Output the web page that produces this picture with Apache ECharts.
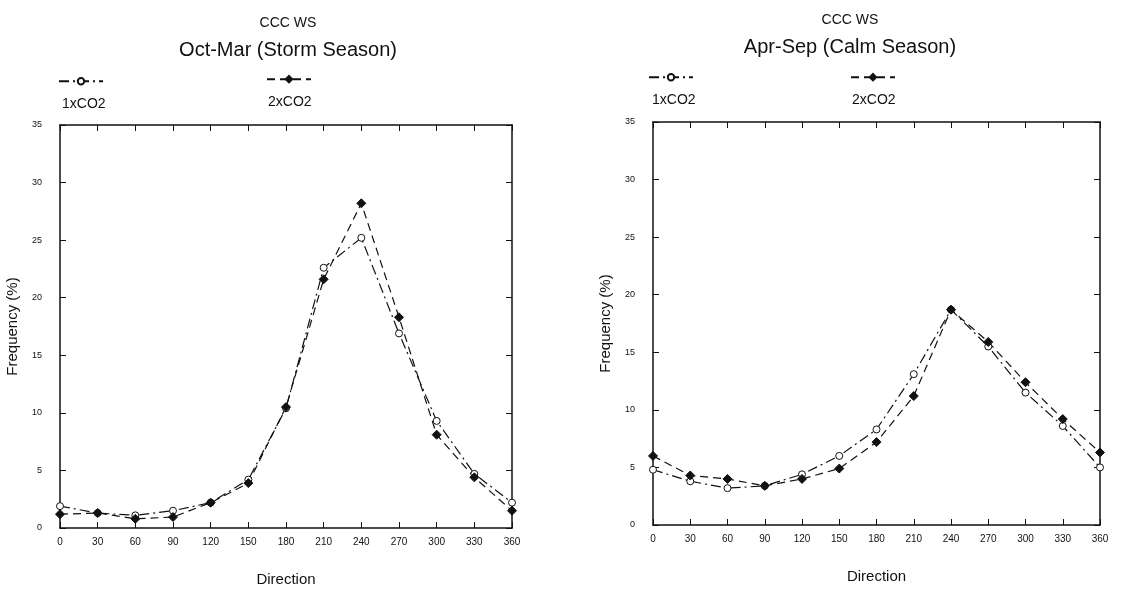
<!DOCTYPE html>
<html>
<head>
    <meta charset="utf-8">
    <title>CCC WS</title>
    <style>
        html, body { margin: 0; padding: 0; background: #fff; }
        #main { width: 1129px; height: 589px; }
    </style>
</head>
<body>
    <div id="main"></div>
    <script src="https://cdn.jsdelivr.net/npm/echarts@6/dist/echarts.min.js"></script>
    <script>
        // wind direction (degrees)
        var directions = [0, 30, 60, 90, 120, 150, 180, 210, 240, 270, 300, 330, 360];

        // Oct-Mar (storm season), frequency %
        var storm1x = [1.9, 1.3, 1.1, 1.5, 2.2, 4.2, 10.4, 22.6, 25.2, 16.9, 9.3, 4.7, 2.2];
        var storm2x = [1.2, 1.3, 0.8, 0.95, 2.2, 3.9, 10.5, 21.6, 28.2, 18.3, 8.1, 4.4, 1.5];

        // Apr-Sep (calm season), frequency %
        var calm1x = [4.8, 3.8, 3.2, 3.4, 4.4, 6.0, 8.3, 13.1, 18.7, 15.5, 11.5, 8.6, 5.0];
        var calm2x = [6.0, 4.3, 4.0, 3.4, 4.0, 4.9, 7.2, 11.2, 18.7, 15.9, 12.4, 9.2, 6.3];

        function pairs(vals) {
            return directions.map(function (d, i) { return [d, vals[i]]; });
        }

        var font = 'Liberation Sans, Arial, sans-serif';
        var ink = '#111';

        function xAxes(gi) {
            return [{
                gridIndex: gi, type: 'value', min: 0, max: 360, interval: 30,
                name: 'Direction', nameLocation: 'middle', nameGap: 44,
                nameTextStyle: { fontFamily: font, fontSize: 15, color: ink, letterSpacing: 1.5 },
                axisLine: { onZero: false, lineStyle: { color: ink, width: 1.5 } },
                axisTick: { inside: true, length: 6, lineStyle: { color: ink } },
                axisLabel: { fontFamily: font, fontSize: 10, color: ink, margin: 9, letterSpacing: 1.5 },
                splitLine: { show: false }
            }, {
                gridIndex: gi, type: 'value', min: 0, max: 360, interval: 30, position: 'top',
                axisLine: { onZero: false, lineStyle: { color: ink, width: 1.5 } },
                axisTick: { inside: true, length: 6, lineStyle: { color: ink } },
                axisLabel: { show: false }, splitLine: { show: false }
            }];
        }

        function yAxes(gi) {
            return [{
                gridIndex: gi, type: 'value', min: 0, max: 35, interval: 5,
                name: 'Frequency (%)', nameLocation: 'middle', nameGap: 40,
                nameTextStyle: { fontFamily: font, fontSize: 15, color: ink, letterSpacing: 1.5 },
                axisLine: { show: true, onZero: false, lineStyle: { color: ink, width: 1.5 } },
                axisTick: { show: true, inside: true, length: 6, lineStyle: { color: ink } },
                axisLabel: { fontFamily: font, fontSize: 9, color: ink, margin: 18, letterSpacing: 1 },
                splitLine: { show: false }
            }, {
                gridIndex: gi, type: 'value', min: 0, max: 35, interval: 5, position: 'right',
                axisLine: { show: true, onZero: false, lineStyle: { color: ink, width: 1.5 } },
                axisTick: { show: true, inside: true, length: 6, lineStyle: { color: ink } },
                axisLabel: { show: false }, splitLine: { show: false }
            }];
        }

        function line(name, vals, gi, filled) {
            return {
                name: name, type: 'line', xAxisIndex: gi * 2, yAxisIndex: gi * 2,
                data: pairs(vals),
                symbol: filled ? 'diamond' : 'circle',
                symbolSize: filled ? 9 : 7,
                color: ink,
                itemStyle: { color: filled ? ink : '#fff', borderColor: ink, borderWidth: 1 },
                lineStyle: { color: ink, width: 1.2, type: filled ? [8, 5] : [10, 4, 2, 4] },
                emphasis: { disabled: true },
                animation: false
            };
        }

        function legendAt(name, left, top) {
            return {
                data: [name], left: left, top: top, itemWidth: 44, itemHeight: 8,
                formatter: function () { return ''; }, selectedMode: false, padding: 0
            };
        }

        function label(text, x, y) {
            return {
                type: 'text', left: x, top: y,
                style: { text: text, font: '14px ' + font, fill: ink, letterSpacing: 1.5 }
            };
        }

        var chart = echarts.init(document.getElementById('main'));
        var option = {
            backgroundColor: '#fff',
            title: [
                { text: 'CCC WS', left: 283, top: 11, textAlign: 'center',
                  textStyle: { fontFamily: font, fontSize: 14, fontWeight: 'normal', color: ink, letterSpacing: 1 } },
                { text: 'Oct-Mar (Storm Season)', left: 283, top: 35, textAlign: 'center',
                  textStyle: { fontFamily: font, fontSize: 20, fontWeight: 'normal', color: ink, letterSpacing: 1.5 } },
                { text: 'CCC WS', left: 845, top: 8, textAlign: 'center',
                  textStyle: { fontFamily: font, fontSize: 14, fontWeight: 'normal', color: ink, letterSpacing: 1 } },
                { text: 'Apr-Sep (Calm Season)', left: 845, top: 32, textAlign: 'center',
                  textStyle: { fontFamily: font, fontSize: 20, fontWeight: 'normal', color: ink, letterSpacing: 1.5 } }
            ],
            legend: [
                legendAt('1xCO2', 58, 77),
                legendAt('2xCO2', 266, 75),
                legendAt('1xCO2', 648, 73),
                legendAt('2xCO2', 850, 73)
            ],
            graphic: [
                label('1xCO2', 62, 97),
                label('2xCO2', 268, 95),
                label('1xCO2', 652, 93),
                label('2xCO2', 852, 93)
            ],
            grid: [
                { left: 60, top: 125, width: 452, height: 403, outerBoundsMode: 'none' },
                { left: 653, top: 122, width: 447, height: 403, outerBoundsMode: 'none' }
            ],
            xAxis: xAxes(0).concat(xAxes(1)),
            yAxis: yAxes(0).concat(yAxes(1)),
            series: [
                line('1xCO2', storm1x, 0, false),
                line('2xCO2', storm2x, 0, true),
                line('1xCO2', calm1x, 1, false),
                line('2xCO2', calm2x, 1, true)
            ]
        };
        chart.setOption(option);
    </script>
</body>
</html>
